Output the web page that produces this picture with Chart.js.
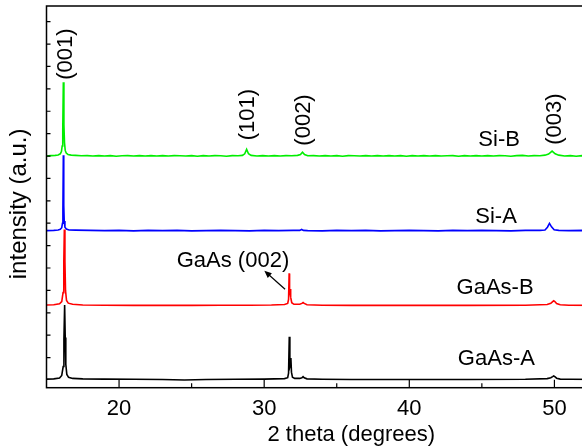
<!DOCTYPE html>
<html>
<head>
<meta charset="utf-8">
<title>XRD patterns</title>
<script src="https://cdn.jsdelivr.net/npm/chart.js@4/dist/chart.umd.min.js"></script>
<style>
  body { margin: 0; background: #fff; }
  .frame { width: 582px; height: 448px; overflow: hidden; }
  .plot { width: 660px; height: 448px; }
</style>
</head>
<body>
<div class="frame"><div class="plot"><canvas id="xrd"></canvas></div></div>
<script>
// [2 theta, intensity] pairs, traces already stacked
const gaAsA = [[15,0.04],[15.5,0.05],[15.9,0.09],[16.05,0.2],[16.15,0.6],[16.2,1.8],[16.25,3.35],[16.29,1.9],[16.33,0.7],[16.4,0.25],[16.52,0.12],[16.8,0.07],[17.5,0.05],[19,0.04],[21,0.03],[23,0.02],[24.5,0.0],[26,0.02],[28,0.03],[30,0.04],[31.4,0.06],[31.62,0.1],[31.68,0.3],[31.73,1.93],[31.77,0.6],[31.81,0.7],[31.84,0.98],[31.88,0.35],[31.95,0.12],[32.1,0.07],[32.45,0.07],[32.6,0.1],[32.68,0.15],[32.76,0.1],[32.95,0.05],[34,0.03],[36,0.02],[40,0.02],[44,0.02],[48,0.03],[49.5,0.06],[49.75,0.1],[49.88,0.15],[49.95,0.18],[50.03,0.15],[50.15,0.08],[50.4,0.04],[51,0.03],[54,0.02],[57,0.02]];

const gaAsB = [[15,3.35],[15.5,3.36],[15.9,3.4],[16.05,3.5],[16.14,3.9],[16.19,5.2],[16.23,6.72],[16.27,5.3],[16.31,4.0],[16.38,3.55],[16.5,3.43],[16.8,3.38],[17.5,3.35],[19,3.34],[21,3.33],[23,3.33],[25,3.33],[27,3.34],[29,3.34],[30.5,3.35],[31.4,3.37],[31.62,3.42],[31.68,3.6],[31.72,4.76],[31.75,4.0],[31.78,3.9],[31.81,4.06],[31.84,3.7],[31.9,3.45],[32.05,3.38],[32.45,3.38],[32.6,3.42],[32.68,3.46],[32.76,3.42],[32.95,3.36],[34,3.34],[36,3.33],[40,3.33],[44,3.33],[48,3.34],[49.5,3.37],[49.75,3.42],[49.88,3.5],[49.95,3.54],[50.03,3.5],[50.15,3.41],[50.4,3.36],[51,3.34],[54,3.33],[57,3.33]];

const siA = [[15,6.67],[15.5,6.68],[15.8,6.7],[15.95,6.73],[16.05,6.8],[16.1,7.0],[16.13,7.6],[16.16,10.04],[16.19,7.8],[16.22,7.1],[16.27,6.82],[16.37,6.74],[16.55,6.7],[17,6.69],[18,6.68],[19,6.67],[20,6.68],[21,6.66],[22,6.68],[23,6.67],[24,6.68],[25,6.66],[26,6.67],[27,6.68],[28,6.67],[29,6.66],[30,6.68],[31,6.67],[32,6.68],[32.45,6.68],[32.58,6.72],[32.7,6.68],[33,6.67],[34,6.66],[35,6.68],[36,6.67],[37,6.68],[38,6.66],[39,6.67],[40,6.68],[41,6.67],[42,6.66],[43,6.68],[44,6.67],[45,6.68],[46,6.67],[47,6.66],[48,6.68],[49,6.68],[49.35,6.7],[49.52,6.82],[49.66,6.99],[49.8,6.84],[49.98,6.71],[50.3,6.68],[51,6.67],[52,6.68],[53,6.67],[54,6.67],[55,6.68],[56,6.67],[57,6.67]];

const siB = [[15,10.0],[15.3,10.02],[15.6,10.03],[15.8,10.05],[15.95,10.1],[16.03,10.2],[16.08,10.45],[16.12,11.2],[16.16,13.3],[16.2,11.4],[16.24,10.6],[16.29,10.25],[16.36,10.13],[16.48,10.07],[16.7,10.04],[17,10.03],[17.4,10.01],[17.8,10.02],[18.2,10.0],[18.6,10.02],[19,10.0],[19.4,10.02],[19.8,9.99],[20.2,10.01],[20.6,10.02],[21,10.0],[21.4,10.02],[21.8,10.0],[22.2,10.02],[22.6,10.0],[23,10.02],[23.4,10.0],[23.8,10.02],[24.2,10.01],[24.6,10.0],[25,10.02],[25.4,9.99],[25.8,10.02],[26.2,10.0],[26.6,10.02],[27,10.01],[27.4,9.99],[27.8,10.02],[28.2,10.01],[28.5,10.03],[28.66,10.1],[28.79,10.3],[28.92,10.1],[29.1,10.03],[29.5,10.0],[29.9,10.02],[30.3,10.0],[30.7,10.02],[31.1,10.0],[31.5,10.02],[31.9,10.01],[32.3,10.03],[32.5,10.07],[32.64,10.17],[32.78,10.07],[33,10.01],[33.4,10.02],[33.8,10.0],[34.2,10.02],[34.6,10.0],[35,10.02],[35.4,9.99],[35.8,10.02],[36.2,10.01],[36.6,10.0],[37,10.02],[37.4,10.0],[37.8,10.02],[38.2,10.0],[38.6,10.02],[39,10.0],[39.4,10.02],[39.8,9.99],[40.2,10.02],[40.6,10.0],[41,10.02],[41.4,10.0],[41.8,10.02],[42.2,10.0],[42.6,10.01],[43,10.02],[43.4,9.99],[43.8,10.02],[44.2,10.0],[44.6,10.02],[45,10.0],[45.4,10.02],[45.8,10.0],[46.2,10.02],[46.6,10.01],[47,9.99],[47.4,10.02],[47.8,10.03],[48.2,10.0],[48.6,10.02],[49,10.01],[49.35,10.04],[49.6,10.09],[49.84,10.22],[50.05,10.1],[50.3,10.04],[50.7,10.0],[51.1,10.02],[51.5,9.99],[51.9,10.02],[52.5,10.0],[53.5,10.02],[54.5,10.0],[55.5,10.02],[57,10.0]];

const sampleNames = ['GaAs-A', 'GaAs-B', 'Si-A', 'Si-B'];
const xTickLabels = [20, 30, 40, 50];

const FONT = "'Liberation Sans', Arial, sans-serif";

// text placed in data coordinates
const notes = [
  { text: '(001)', x: 16.34, y: 14.55, rot: true },
  { text: '(101)', x: 28.85, y: 11.85, rot: true },
  { text: '(002)', x: 32.71, y: 11.61, rot: true },
  { text: '(003)', x: 50.04, y: 11.65, rot: true },
  { text: sampleNames[3], x: 46.19, y: 10.71 },
  { text: sampleNames[2], x: 45.98, y: 7.30 },
  { text: sampleNames[1], x: 45.91, y: 4.09 },
  { text: sampleNames[0], x: 46.0, y: 0.94 },
  { text: 'GaAs (002)', x: 27.85, y: 5.31 }
];

const decorations = {
  id: 'decorations',
  afterDatasetsDraw(chart) {
    const { ctx, chartArea: a, scales: { x, y } } = chart;
    ctx.save();
    ctx.strokeStyle = '#000';
    ctx.fillStyle = '#000';
    ctx.lineWidth = 1.5;
    ctx.strokeRect(a.left, a.top, a.right - a.left, a.bottom - a.top);

    // inward tick marks
    ctx.beginPath();
    x.ticks.forEach(t => {
      if (t.value % 5 !== 0 || t.value <= x.min) return;
      const px = x.getPixelForValue(t.value);
      const len = xTickLabels.includes(t.value) ? 8 : 4.5;
      ctx.moveTo(px, a.bottom);
      ctx.lineTo(px, a.bottom - len);
    });
    y.ticks.forEach(t => {
      if (!Number.isInteger(t.value)) return;
      const py = y.getPixelForValue(t.value);
      ctx.moveTo(a.left, py);
      ctx.lineTo(a.left + 4, py);
    });
    ctx.lineWidth = 1.2;
    ctx.stroke();

    // y axis title, sits a little below the middle of the axis
    ctx.font = '24px ' + FONT;
    ctx.textAlign = 'center';
    ctx.textBaseline = 'middle';
    ctx.save();
    ctx.translate(19.7, (a.top + a.bottom) / 2 + 7);
    ctx.rotate(-Math.PI / 2);
    ctx.fillText('intensity (a.u.)', 0, 0);
    ctx.restore();

    // labels
    ctx.font = '22px ' + FONT;
    notes.forEach(n => {
      const px = x.getPixelForValue(n.x);
      const py = y.getPixelForValue(n.y);
      ctx.save();
      ctx.translate(px, py);
      if (n.rot) ctx.rotate(-Math.PI / 2);
      ctx.fillText(n.text, 0, 0);
      ctx.restore();
    });

    // arrow pointing at the GaAs (002) label
    const x0 = x.getPixelForValue(31.44), y0 = y.getPixelForValue(4.05);
    const x1 = x.getPixelForValue(30.01), y1 = y.getPixelForValue(4.88);
    const ang = Math.atan2(y1 - y0, x1 - x0);
    ctx.lineWidth = 1.2;
    ctx.beginPath();
    ctx.moveTo(x0, y0);
    ctx.lineTo(x1 - 6 * Math.cos(ang), y1 - 6 * Math.sin(ang));
    ctx.stroke();
    ctx.beginPath();
    ctx.moveTo(x1, y1);
    ctx.lineTo(x1 - 8 * Math.cos(ang - 0.4), y1 - 8 * Math.sin(ang - 0.4));
    ctx.lineTo(x1 - 8 * Math.cos(ang + 0.4), y1 - 8 * Math.sin(ang + 0.4));
    ctx.closePath();
    ctx.fill();
    ctx.restore();
  }
};

const toPoints = arr => arr.map(p => ({ x: p[0], y: p[1] }));

new Chart(document.getElementById('xrd'), {
  type: 'line',
  data: {
    datasets: [
      { label: sampleNames[0], data: toPoints(gaAsA), borderColor: '#000000' },
      { label: sampleNames[1], data: toPoints(gaAsB), borderColor: '#ff0000' },
      { label: sampleNames[2], data: toPoints(siA), borderColor: '#0000ff' },
      { label: sampleNames[3], data: toPoints(siB), borderColor: '#00ee00' }
    ]
  },
  options: {
    responsive: true,
    maintainAspectRatio: false,
    animation: false,
    layout: { padding: { top: 6, right: 4, left: 0, bottom: 0 } },
    elements: {
      point: { radius: 0 },
      line: { borderWidth: 1.6, tension: 0 }
    },
    plugins: {
      legend: { display: false },
      tooltip: { enabled: false }
    },
    scales: {
      x: {
        type: 'linear',
        min: 15,
        max: 57,
        grid: { display: false },
        border: { display: false },
        ticks: {
          stepSize: 5,
          autoSkip: false,
          maxRotation: 0,
          padding: 0,
          color: '#000',
          font: { family: FONT, size: 22 },
          callback: v => xTickLabels.includes(v) ? String(v) : ''
        },
        title: {
          display: true,
          text: '2 theta (degrees)',
          color: '#000',
          font: { family: FONT, size: 22 },
          padding: { top: 0, bottom: 0 }
        },
        afterFit: s => { s.height = 60.3; }
      },
      y: {
        min: -0.345,
        max: 16.7,
        grid: { display: false },
        border: { display: false },
        ticks: { display: false, stepSize: 1 },
        afterFit: s => { s.width = 46.5; }
      }
    }
  },
  plugins: [decorations]
});
</script>
</body>
</html>
